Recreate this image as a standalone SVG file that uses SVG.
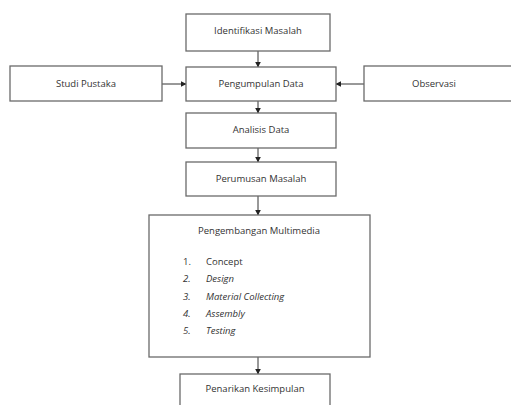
<svg xmlns="http://www.w3.org/2000/svg" width="511" height="405" viewBox="0 0 511 405">
<style>
.box{fill:#fff;stroke:#6a6a6a;stroke-width:1.3}
.t{font-family:"Open Sans","Liberation Sans",sans-serif;font-size:9.5px;fill:#333;text-anchor:middle}
.l{font-family:"Open Sans","Liberation Sans",sans-serif;font-size:9.5px;fill:#333}
.i{font-style:italic}
.c{stroke:#333;stroke-width:1;fill:none;marker-end:url(#ah)}
</style>
<defs>
<marker id="ah" viewBox="0 0 10 10" refX="9" refY="5" markerWidth="6" markerHeight="6" markerUnits="userSpaceOnUse" orient="auto">
<path d="M0,0 L10,5 L0,10 z" fill="#222"/>
</marker>
</defs>
<rect width="511" height="405" fill="#fff"/>
<g id="connectors">
<line class="c" x1="258" y1="51" x2="258" y2="67"/>
<line class="c" x1="162" y1="84" x2="186" y2="84"/>
<line class="c" x1="364" y1="84" x2="336" y2="84"/>
<line class="c" x1="258" y1="101" x2="258" y2="113"/>
<line class="c" x1="258" y1="148" x2="258" y2="162"/>
<line class="c" x1="258" y1="196" x2="258" y2="215"/>
<line class="c" x1="258" y1="357" x2="258" y2="374"/>
</g>
<g id="identifikasi">
<rect class="box" x="186" y="14" width="144" height="37"/>
<text class="t" x="258" y="34">Identifikasi Masalah</text>
</g>
<g id="studi">
<rect class="box" x="10" y="66" width="152" height="35"/>
<text class="t" x="86" y="87">Studi Pustaka</text>
</g>
<g id="pengumpulan">
<rect class="box" x="186" y="67" width="150" height="34"/>
<text class="t" x="261" y="87">Pengumpulan Data</text>
</g>
<g id="observasi">
<rect class="box" x="364" y="66" width="152" height="35"/>
<text class="t" x="434" y="87">Observasi</text>
</g>
<g id="analisis">
<rect class="box" x="186" y="113" width="150" height="35"/>
<text class="t" x="261" y="133">Analisis Data</text>
</g>
<g id="perumusan">
<rect class="box" x="186" y="162" width="150" height="34"/>
<text class="t" x="261" y="182">Perumusan Masalah</text>
</g>
<g id="pengembangan">
<rect class="box" x="149" y="215" width="221" height="142"/>
<text class="t" x="259" y="234">Pengembangan Multimedia</text>
<text class="l" x="183" y="265">1.</text><text class="l" x="206" y="265">Concept</text>
<text class="l i" x="183" y="282">2.</text><text class="l i" x="206" y="282">Design</text>
<text class="l i" x="183" y="300">3.</text><text class="l i" x="206" y="300">Material Collecting</text>
<text class="l i" x="183" y="317">4.</text><text class="l i" x="206" y="317">Assembly</text>
<text class="l i" x="183" y="334">5.</text><text class="l i" x="206" y="334">Testing</text>
</g>
<g id="penarikan">
<rect class="box" x="180" y="374" width="150" height="40"/>
<text class="t" x="255" y="392">Penarikan Kesimpulan</text>
</g>
</svg>
